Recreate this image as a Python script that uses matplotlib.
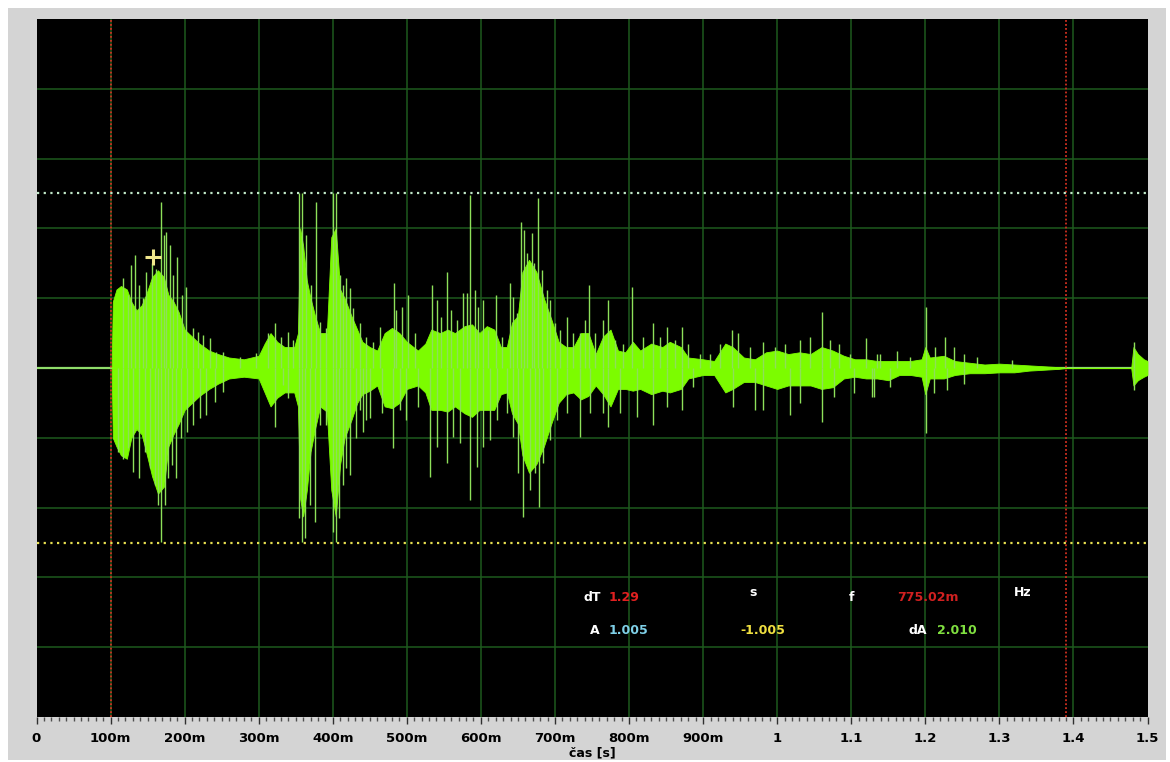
import numpy as np
import matplotlib.pyplot as plt
from matplotlib.patches import Rectangle

# obálka signálu (čas [s], horní a dolní hodnota)
env_t = [0.1015, 0.1030, 0.1080, 0.1140, 0.1220, 0.1280, 0.1350, 0.1420, 0.1480, 0.1560,
         0.1640, 0.1720, 0.1780, 0.1850, 0.1920, 0.2000, 0.2100, 0.2200, 0.2330, 0.2450,
         0.2600, 0.2800, 0.3000, 0.3080, 0.3160, 0.3250, 0.3350, 0.3480, 0.3530, 0.3560,
         0.3600, 0.3650, 0.3700, 0.3760, 0.3830, 0.3920, 0.3980, 0.4040, 0.4100, 0.4160,
         0.4250, 0.4330, 0.4400, 0.4500, 0.4600, 0.4700, 0.4800, 0.4900, 0.5000, 0.5150,
         0.5250, 0.5330, 0.5450, 0.5550, 0.5650, 0.5780, 0.5880, 0.5980, 0.6080, 0.6180,
         0.6270, 0.6350, 0.6420, 0.6500, 0.6560, 0.6650, 0.6750, 0.6850, 0.6950, 0.7050,
         0.7150, 0.7250, 0.7350, 0.7450, 0.7550, 0.7650, 0.7750, 0.7850, 0.7950, 0.8050,
         0.8150, 0.8300, 0.8450, 0.8550, 0.8700, 0.8800, 0.9000, 0.9150, 0.9300, 0.9400,
         0.9550, 0.9700, 0.9850, 1.0000, 1.0150, 1.0300, 1.0450, 1.0600, 1.0750, 1.0900,
         1.1050, 1.1200, 1.1350, 1.1500, 1.1650, 1.1800, 1.1950, 1.2000, 1.2060, 1.2250,
         1.2400, 1.2600, 1.2800, 1.3000, 1.3200, 1.3400, 1.3600, 1.3800, 1.3900, 1.4780,
         1.4810, 1.4870, 1.4950, 1.5000]
env_top = [0.00, 0.38, 0.45, 0.47, 0.45, 0.38, 0.33, 0.36, 0.42, 0.52,
           0.56, 0.52, 0.42, 0.38, 0.32, 0.22, 0.18, 0.14, 0.10, 0.08,
           0.06, 0.05, 0.07, 0.14, 0.20, 0.15, 0.12, 0.12, 0.20, 0.80,
           0.70, 0.50, 0.40, 0.30, 0.20, 0.20, 0.75, 0.80, 0.45, 0.40,
           0.30, 0.22, 0.15, 0.12, 0.10, 0.20, 0.23, 0.20, 0.15, 0.10,
           0.14, 0.22, 0.20, 0.22, 0.20, 0.24, 0.25, 0.20, 0.24, 0.22,
           0.12, 0.12, 0.26, 0.30, 0.55, 0.62, 0.55, 0.40, 0.28, 0.15,
           0.12, 0.12, 0.20, 0.20, 0.08, 0.18, 0.22, 0.10, 0.09, 0.15,
           0.10, 0.14, 0.12, 0.15, 0.12, 0.06, 0.05, 0.04, 0.14, 0.12,
           0.06, 0.05, 0.09, 0.10, 0.08, 0.09, 0.08, 0.12, 0.10, 0.07,
           0.05, 0.05, 0.04, 0.04, 0.04, 0.04, 0.05, 0.12, 0.06, 0.07,
           0.04, 0.03, 0.02, 0.025, 0.02, 0.015, 0.01, 0.005, 0.00, 0.00,
           0.12, 0.08, 0.05, 0.04]
env_bot = [0.00, -0.40, -0.45, -0.50, -0.52, -0.40, -0.35, -0.38, -0.48, -0.62,
           -0.72, -0.68, -0.45, -0.38, -0.32, -0.24, -0.20, -0.16, -0.12, -0.09,
           -0.06, -0.05, -0.06, -0.14, -0.22, -0.17, -0.14, -0.14, -0.22, -0.75,
           -0.85, -0.70, -0.48, -0.35, -0.22, -0.25, -0.70, -0.85, -0.55, -0.40,
           -0.30, -0.20, -0.15, -0.13, -0.10, -0.22, -0.23, -0.20, -0.12, -0.10,
           -0.14, -0.24, -0.24, -0.25, -0.22, -0.26, -0.28, -0.24, -0.24, -0.24,
           -0.15, -0.14, -0.26, -0.32, -0.50, -0.60, -0.55, -0.45, -0.32, -0.20,
           -0.15, -0.14, -0.18, -0.16, -0.10, -0.15, -0.22, -0.12, -0.12, -0.13,
           -0.12, -0.15, -0.13, -0.14, -0.12, -0.06, -0.04, -0.04, -0.14, -0.12,
           -0.08, -0.08, -0.10, -0.12, -0.10, -0.10, -0.10, -0.12, -0.11, -0.06,
           -0.05, -0.06, -0.06, -0.07, -0.04, -0.04, -0.05, -0.15, -0.06, -0.06,
           -0.04, -0.03, -0.03, -0.025, -0.025, -0.015, -0.01, -0.005, 0.00, 0.00,
           -0.10, -0.07, -0.05, -0.04]

# špičky nahoru (čas, max)
up_t = [0.1167, 0.1234, 0.1279, 0.1324, 0.1383, 0.1437, 0.1482, 0.1563, 0.1617, 0.1676,
        0.1716, 0.1752, 0.1797, 0.1842, 0.1901, 0.1968, 0.2023, 0.2113, 0.2180, 0.2248,
        0.2338, 0.2428, 0.2518, 0.2743, 0.2968, 0.3126, 0.3216, 0.3306, 0.3396, 0.3464,
        0.3545, 0.3590, 0.3644, 0.3712, 0.3770, 0.3824, 0.3914, 0.4000, 0.4050, 0.4095,
        0.4140, 0.4185, 0.4230, 0.4275, 0.4365, 0.4455, 0.4545, 0.4635, 0.4829, 0.4860,
        0.4928, 0.5018, 0.5108, 0.5342, 0.5401, 0.5468, 0.5536, 0.5603, 0.5671, 0.5761,
        0.5806, 0.5851, 0.5919, 0.5964, 0.6032, 0.6099, 0.6203, 0.6279, 0.6392, 0.6437,
        0.6482, 0.6541, 0.6586, 0.6617, 0.6685, 0.6721, 0.6766, 0.6820, 0.6887, 0.6932,
        0.7000, 0.7068, 0.7158, 0.7248, 0.7338, 0.7405, 0.7464, 0.7541, 0.7653, 0.7721,
        0.7811, 0.7924, 0.8045, 0.8194, 0.8329, 0.8419, 0.8509, 0.8622, 0.8712, 0.8802,
        0.8959, 0.9095, 0.9230, 0.9387, 0.9477, 0.9635, 0.9815, 0.9973, 1.0108, 1.0311,
        1.0446, 1.0604, 1.0716, 1.0829, 1.0986, 1.1198, 1.1347, 1.1392, 1.1617, 1.1797,
        1.2005, 1.2135, 1.2270, 1.2383, 1.2518, 1.2698, 1.3171, 1.4815]
up_v = [0.514, 0.418, 0.590, 0.648, 0.476, 0.400, 0.552, 0.600, 0.570, 0.953,
        0.762, 0.781, 0.705, 0.533, 0.638, 0.418, 0.466, 0.227, 0.208, 0.190,
        0.170, 0.093, 0.093, 0.065, 0.086, 0.199, 0.256, 0.180, 0.208, 0.160,
        1.005, 1.005, 0.762, 0.476, 0.953, 0.265, 0.227, 1.005, 1.005, 0.533,
        0.476, 0.514, 0.457, 0.342, 0.256, 0.180, 0.151, 0.237, 0.485, 0.332,
        0.351, 0.418, 0.199, 0.476, 0.390, 0.294, 0.552, 0.332, 0.275, 0.428,
        0.430, 0.990, 0.447, 0.351, 0.390, 0.218, 0.418, 0.180, 0.485, 0.409,
        0.313, 0.838, 0.791, 0.657, 0.772, 0.600, 0.972, 0.562, 0.447, 0.390,
        0.256, 0.218, 0.294, 0.199, 0.199, 0.275, 0.476, 0.199, 0.275, 0.390,
        0.160, 0.140, 0.466, 0.180, 0.256, 0.180, 0.237, 0.160, 0.237, 0.140,
        0.080, 0.080, 0.140, 0.218, 0.199, 0.122, 0.151, 0.122, 0.140, 0.160,
        0.180, 0.323, 0.160, 0.140, 0.080, 0.170, 0.080, 0.080, 0.100, 0.065,
        0.351, 0.122, 0.180, 0.122, 0.080, 0.065, 0.046, 0.151]

# špičky dolů (čas, min)
dn_t = [0.1099, 0.1167, 0.1234, 0.1302, 0.1383, 0.1459, 0.1527, 0.1595, 0.1640, 0.1676,
        0.1730, 0.1775, 0.1833, 0.1887, 0.1955, 0.2032, 0.2113, 0.2203, 0.2293, 0.2405,
        0.2518, 0.3216, 0.3329, 0.3396, 0.3545, 0.3581, 0.3622, 0.3689, 0.3757, 0.3824,
        0.3914, 0.4005, 0.4041, 0.4086, 0.4140, 0.4185, 0.4239, 0.4320, 0.4410, 0.4500,
        0.4365, 0.4455, 0.4658, 0.4815, 0.4905, 0.4995, 0.5153, 0.5311, 0.5401, 0.5536,
        0.5626, 0.5716, 0.5851, 0.5941, 0.6032, 0.6122, 0.6212, 0.6347, 0.6437, 0.6505,
        0.6572, 0.6662, 0.6730, 0.6784, 0.6842, 0.6932, 0.7023, 0.7158, 0.7338, 0.7473,
        0.7653, 0.7721, 0.7878, 0.8104, 0.8329, 0.8509, 0.8712, 0.8869, 0.9410, 0.9703,
        0.9815, 1.0176, 1.0311, 1.0604, 1.0761, 1.1031, 1.1279, 1.1302, 1.1527, 1.2005,
        1.2113, 1.2293, 1.2518, 1.4815]
dn_v = [-0.480, -0.520, -0.460, -0.594, -0.632, -0.480, -0.575, -0.670, -0.785, -0.995,
        -0.785, -0.632, -0.556, -0.632, -0.403, -0.364, -0.327, -0.288, -0.269, -0.193,
        -0.136, -0.340, -0.097, -0.174, -0.861, -0.995, -0.976, -0.785, -0.880, -0.327,
        -0.327, -0.938, -0.995, -0.861, -0.670, -0.575, -0.613, -0.403, -0.364, -0.288,
        -0.241, -0.298, -0.260, -0.460, -0.241, -0.298, -0.222, -0.623, -0.451, -0.546,
        -0.394, -0.432, -0.756, -0.566, -0.451, -0.413, -0.298, -0.260, -0.394, -0.604,
        -0.852, -0.699, -0.604, -0.795, -0.546, -0.413, -0.298, -0.260, -0.394, -0.260,
        -0.260, -0.336, -0.260, -0.279, -0.327, -0.222, -0.241, -0.107, -0.222, -0.241,
        -0.241, -0.270, -0.203, -0.308, -0.165, -0.146, -0.165, -0.165, -0.107, -0.375,
        -0.146, -0.127, -0.089, -0.127]

x_ticks = [0, 0.1, 0.2, 0.3, 0.4, 0.5, 0.6, 0.7, 0.8, 0.9, 1.0, 1.1, 1.2, 1.3, 1.4, 1.5]
x_labels = ["0", "100m", "200m", "300m", "400m", "500m", "600m", "700m", "800m", "900m",
            "1", "1.1", "1.2", "1.3", "1.4", "1.5"]

cursor_t = [0.1, 1.39]
level_hi = 1.005
level_lo = -1.005

W, H = 1170, 762
fig = plt.figure(figsize=(W / 100, H / 100), dpi=100, facecolor="white")
fig.patches.append(Rectangle((8 / W, 2 / H), 1158 / W, 752 / H, transform=fig.transFigure,
                             facecolor="#d4d4d4", edgecolor="none", zorder=-10))

ax = fig.add_axes([36.5 / W, (H - 717) / H, 1111 / W, 698 / H])
ax.set_zorder(1)
ax.set_facecolor("black")
ax.set_xlim(0, 1.5)
ax.set_ylim(-2, 2)

# mřížka
for gx in np.arange(0.1, 1.5, 0.1):
    ax.axvline(gx, color="#1e5a1e", lw=1.1, zorder=1)
for gy in np.arange(-1.6, 1.7, 0.4):
    ax.axhline(gy, color="#1e5a1e", lw=1.1, zorder=1)

# signál
ax.plot([0, 1.5], [0, 0], color="#8fdc6a", lw=1.6, zorder=2)
ax.fill_between(env_t, env_bot, env_top, color="#7cfc00", lw=0.6, zorder=3)
ax.vlines(up_t, 0, up_v, color="#8ee05a", lw=1.0, zorder=3)
ax.vlines(dn_t, dn_v, 0, color="#8ee05a", lw=1.0, zorder=3)

# kurzory
for ct in cursor_t:
    ax.axvline(ct, color="#d03020", lw=1.3, ls=(0, (1, 1.2)), zorder=4)
ax.axhline(level_hi, color="#c0e8c8", lw=1.6, ls=(0, (1, 2)), zorder=4)
ax.axhline(level_lo, color="#e8e050", lw=1.6, ls=(0, (1, 2)), zorder=4)
ax.plot([0.157], [0.636], marker="+", ms=11, mew=2.2, color="#f0e68c", zorder=5)

# odečty
txt = dict(fontsize=9, fontweight="bold", va="center", ha="left", zorder=6)
ax.text(0.738, -1.318, "dT", color="white", **txt)
ax.text(0.772, -1.318, "1.29", color="#e02020", **txt)
ax.text(0.963, -1.284, "s", color="white", **txt)
ax.text(1.097, -1.318, "f", color="white", **txt)
ax.text(1.162, -1.318, "775.02m", color="#d02020", **txt)
ax.text(1.319, -1.284, "Hz", color="white", **txt)
ax.text(0.747, -1.507, "A", color="white", **txt)
ax.text(0.772, -1.507, "1.005", color="#7fd0e8", **txt)
ax.text(0.950, -1.507, "-1.005", color="#f0e040", **txt)
ax.text(1.177, -1.507, "dA", color="white", **txt)
ax.text(1.216, -1.507, "2.010", color="#80e040", **txt)

ax.set_xticks(x_ticks)
ax.set_xticklabels(x_labels, fontsize=9.5, fontweight="bold")
ax.set_xticks(np.arange(0, 1.501, 0.01), minor=True)
ax.tick_params(axis="x", which="major", length=5, width=1, color="#303030", pad=6)
ax.tick_params(axis="x", which="minor", length=3, width=1, color="#505050")
ax.set_yticks([])
ax.set_xlabel("čas [s]", fontsize=9, fontweight="bold", labelpad=1)
for sp in ax.spines.values():
    sp.set_visible(False)

fig.savefig("out.png", dpi=100, facecolor=fig.get_facecolor())
